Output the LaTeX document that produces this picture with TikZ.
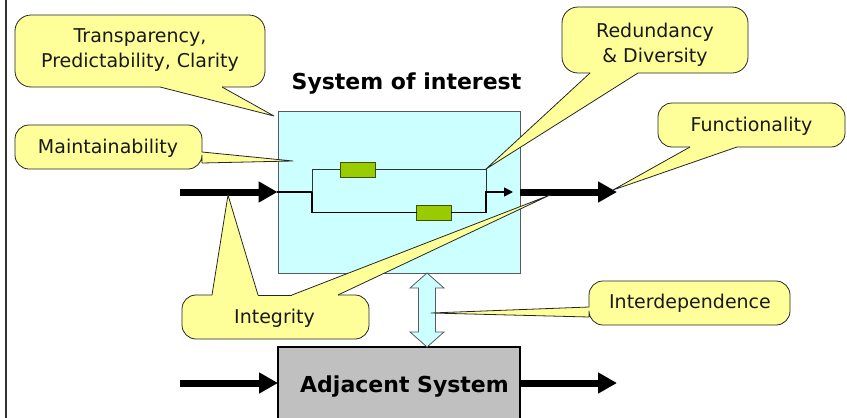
\documentclass[tikz,border=0pt]{standalone}
\usepackage{fontspec}
\setmainfont{DejaVu Sans}
\usetikzlibrary{arrows.meta}

\definecolor{note}{HTML}{FFFF99}
\definecolor{soibg}{HTML}{CCFFFF}
\definecolor{part}{HTML}{99CC00}
\definecolor{partedge}{HTML}{3F5200}
\definecolor{adjbg}{HTML}{C0C0C0}
\definecolor{frameedge}{HTML}{5A5A5A}

\tikzset{
  notetext/.style={font=\fontsize{19}{25}\selectfont, text=black!90, inner sep=0pt, align=center},
  titletext/.style={font=\fontsize{22}{26}\selectfont\bfseries, inner sep=0pt},
  noteline/.style={draw=black!85, line width=0.8pt, line join=round},
  flow/.style={line width=7pt, -{Triangle[length=19pt,width=20pt]}},
  wire/.style={line width=1.8pt, line cap=rect},
  thinwire/.style={line width=1pt, draw=black!80},
  partbox/.style={draw=partedge, fill=part, line width=0.8pt, minimum width=35pt, minimum height=15pt, inner sep=0pt},
}

\begin{document}
\begin{tikzpicture}[x=1pt, y=-1pt]
\useasboundingbox (0,0) rectangle (847,418);

% left border rule
\draw[line width=2pt, black!80] (6,0) -- (6,418);

% system of interest
\node[draw=frameedge, fill=soibg, line width=0.9pt, minimum width=242pt, minimum height=162pt, inner sep=0pt] (soi) at (399,192) {};
\node[titletext, anchor=base] (soititle) at (406.5,89) {System of interest};

% redundant internal paths
\coordinate (split) at (312,192);
\coordinate (merge) at (486,192);
\node[partbox] (partA) at (357.5,169.5) {};
\node[partbox] (partB) at (433.5,212.5) {};
\draw[wire] (soi.west) -- (split);
\draw[wire] (split) |- (partB.west);
\draw[wire] (partB.east) -| (merge);
\draw[thinwire] (split) |- (partA.west);
\draw[thinwire] (partA.east) -| (merge);
\coordinate (innertip) at (513,192);
\draw[line width=1.6pt, -{Triangle[length=9pt,width=9pt]}] (merge) -- (innertip);

% external flows of the system of interest
\coordinate (inA) at (180,192);
\coordinate (outA) at (617,192);
\draw[flow] (inA) -- (soi.west);
\draw[flow] (soi.east) -- (outA);

% adjacent system
\fill[adjbg] (278,347) rectangle (520,420);
\draw[line width=2pt] (278,420) -- (278,347) -- (520,347) -- (520,420);
\coordinate (adjW) at (278,383);
\coordinate (adjE) at (520,383);
\node[titletext, anchor=base] (adjtitle) at (404.5,392) {Adjacent System};
\coordinate (inB) at (180,383);
\coordinate (outB) at (617,383);
\draw[flow] (inB) -- (adjW);
\draw[flow] (adjE) -- (outB);

% interdependence double arrow
\draw[draw=frameedge, fill=soibg, line width=0.8pt, line join=miter]
  (427,273) -- (444,288) -- (435.5,288) -- (435.5,332) -- (444,332) -- (427,347)
  -- (410,332) -- (418.5,332) -- (418.5,288) -- (410,288) -- cycle;

% ---------- callouts ----------
% Transparency, Predictability, Clarity
\fill[note, rounded corners=16pt] (15,15) rectangle (265,87);
\fill[note] (160,84) -- (160,87) -- (274,116) -- (222,87) -- (222,84) -- cycle;
\draw[noteline, rounded corners=16pt] (222,87) -- (265,87) -- (265,15) -- (15,15) -- (15,87) -- (160,87);
\draw[noteline] (160,87) -- (274,116) -- (222,87);
\node[notetext] (transp) at (140,50.5) {Transparency,\\Predictability, Clarity};

% Maintainability
\fill[note, rounded corners=14pt] (15,125) rectangle (202,169);
\fill[note] (199,152) -- (202,152) -- (293,161) -- (202,163) -- (199,163) -- cycle;
\draw[noteline, rounded corners=14pt] (202,163) -- (202,169) -- (15,169) -- (15,125) -- (202,125) -- (202,152);
\draw[noteline] (202,152) -- (293,161) -- (202,163);
\node[notetext, anchor=base] (maint) at (108,153) {Maintainability};

% Redundancy & Diversity
\fill[note, rounded corners=16pt] (562,7) rectangle (748,73);
\fill[note] (590,70) -- (590,73) -- (486,169) -- (638,73) -- (638,70) -- cycle;
\draw[noteline, rounded corners=16pt] (638,73) -- (748,73) -- (748,7) -- (562,7) -- (562,73) -- (590,73);
\draw[noteline] (590,73) -- (486,169) -- (638,73);
\node[notetext] (redund) at (655,44.5) {Redundancy\\\& Diversity};

% Functionality
\fill[note, rounded corners=14pt] (658,103) rectangle (845,147);
\fill[note] (690,144) -- (690,147) -- (613,190) -- (737,147) -- (737,144) -- cycle;
\draw[noteline, rounded corners=14pt] (737,147) -- (845,147) -- (845,103) -- (658,103) -- (658,147) -- (690,147);
\draw[noteline] (690,147) -- (613,190) -- (737,147);
\node[notetext, anchor=base] (func) at (751.5,131) {Functionality};

% Integrity
\fill[note, rounded corners=14pt] (182,295) rectangle (369,339);
\fill[note] (212,298) -- (212,295) -- (228,195) -- (258,295) -- (258,298) -- cycle;
\fill[note] (292,298) -- (292,295) -- (550,195) -- (338,295) -- (338,298) -- cycle;
\draw[noteline, rounded corners=14pt] (338,295) -- (369,295) -- (369,339) -- (182,339) -- (182,295) -- (212,295);
\draw[noteline] (258,295) -- (292,295);
\draw[noteline] (212,295) -- (228,195) -- (258,295);
\draw[noteline] (292,295) -- (550,195) -- (338,295);
\node[notetext, anchor=base] (integ) at (274.5,323) {Integrity};

% Interdependence
\fill[note, rounded corners=14pt] (589,281) rectangle (790,325);
\fill[note] (592,307) -- (589,307) -- (431,313) -- (589,317) -- (592,317) -- cycle;
\draw[noteline, rounded corners=14pt] (589,317) -- (589,325) -- (790,325) -- (790,281) -- (589,281) -- (589,307);
\draw[noteline] (589,307) -- (431,313) -- (589,317);
\node[notetext, anchor=base] (interdep) at (690,308) {Interdependence};

\end{tikzpicture}
\end{document}
